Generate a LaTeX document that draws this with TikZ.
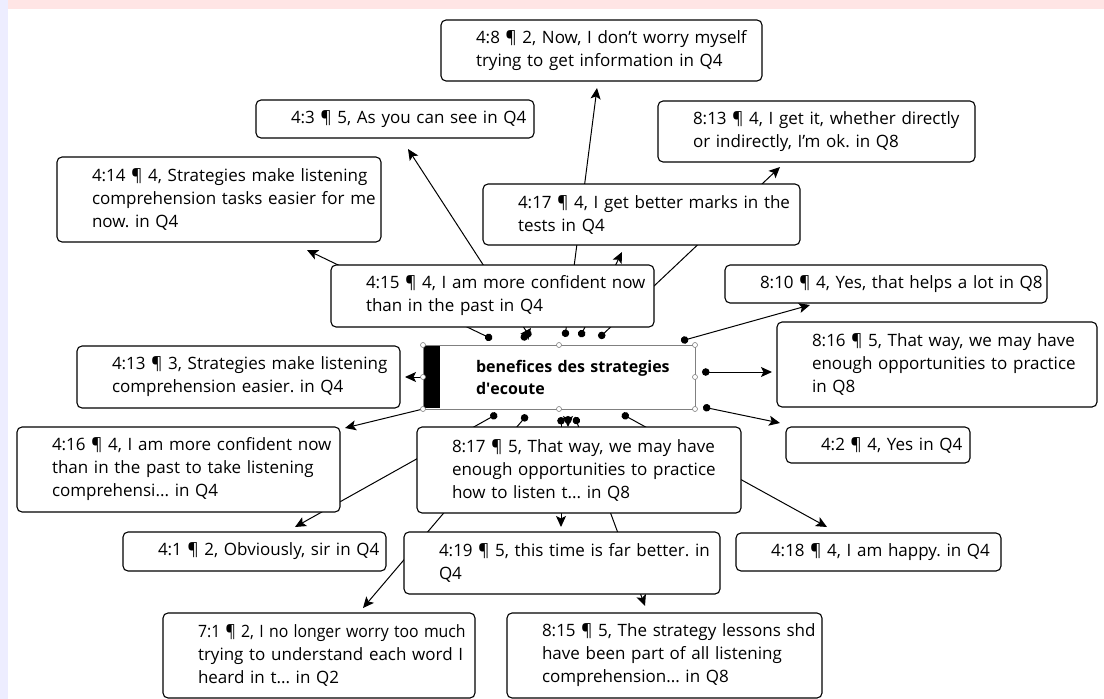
\documentclass[tikz,border=0pt]{standalone}
\usepackage{fontspec}
\setmainfont{Open Sans}
\usetikzlibrary{arrows.meta}
\pgfdeclarelayer{back}
\pgfdeclarelayer{edges}
\pgfsetlayers{back,edges,main}
\begin{document}
\frenchspacing
\begin{tikzpicture}[x=1pt,y=-1pt,
  q/.style={draw=black, line width=1.1pt, rounded corners=5pt, fill=white, anchor=north west,
    inner xsep=35pt, inner ysep=0pt, outer sep=0pt, align=left,
    font=\fontsize{17}{23}\selectfont},
  ln/.style={line width=1pt, {Circle[length=7.5pt]}-{Stealth[length=11pt,width=10pt,inset=2.5pt]}},
  ar/.style={line width=1pt, -{Stealth[length=11pt,width=10pt,inset=2.5pt]}},
  hd/.style={draw=gray, fill=white, line width=0.6pt}
]
\begin{pgfonlayer}{back}
\useasboundingbox (0,0) rectangle (1104,699);
\fill[white] (0,0) rectangle (1104,699);
\fill[red!10] (0,0) rectangle (1104,9);
\fill[blue!7] (0,0) rectangle (8,699);
\end{pgfonlayer}

% boxes
\node[q, minimum width=321pt, minimum height=61pt, text width=251pt] (b48) at (441,20)
  {\mbox{4:8 ¶ 2, Now, I don’t worry myself}\\\mbox{trying to get information in Q4}};
\node[q, minimum width=278pt, minimum height=38pt, text width=208pt] (b43) at (256,100)
  {\mbox{4:3 ¶ 5, As you can see in Q4}};
\node[q, minimum width=317pt, minimum height=61pt, text width=247pt] (b813) at (658,101)
  {\mbox{8:13 ¶ 4, I get it, whether directly}\\\mbox{or indirectly, I’m ok. in Q8}};
\node[q, minimum width=324pt, minimum height=85pt, text width=254pt] (b414) at (57,157)
  {\mbox{4:14 ¶ 4, Strategies make listening}\\\mbox{comprehension tasks easier for me}\\\mbox{now. in Q4}};
\node[q, minimum width=317pt, minimum height=61pt, text width=247pt] (b417) at (483,184)
  {\mbox{4:17 ¶ 4, I get better marks in the}\\\mbox{tests in Q4}};
\node[q, minimum width=323pt, minimum height=62pt, text width=253pt] (b415) at (331,265)
  {\mbox{4:15 ¶ 4, I am more confident now}\\\mbox{than in the past in Q4}};
\node[q, minimum width=322pt, minimum height=38pt, text width=252pt] (b810) at (725,265)
  {\mbox{8:10 ¶ 4, Yes, that helps a lot in Q8}};
\node[q, minimum width=320pt, minimum height=85pt, text width=250pt] (b816) at (777,322)
  {\mbox{8:16 ¶ 5, That way, we may have}\\\mbox{enough opportunities to practice}\\\mbox{in Q8}};
\node[q, minimum width=323pt, minimum height=62pt, text width=253pt] (b413) at (77,346)
  {\mbox{4:13 ¶ 3, Strategies make listening}\\\mbox{comprehension easier. in Q4}};
\node[q, minimum width=184pt, minimum height=36pt, text width=114pt] (b42) at (786,427)
  {\mbox{4:2 ¶ 4, Yes in Q4}};
\node[q, minimum width=323pt, minimum height=85pt, text width=253pt] (b416) at (17,427)
  {\mbox{4:16 ¶ 4, I am more confident now}\\\mbox{than in the past to take listening}\\\mbox{comprehensi... in Q4}};
\node[q, minimum width=324pt, minimum height=86pt, text width=254pt] (b817) at (417,427)
  {\mbox{8:17 ¶ 5, That way, we may have}\\\mbox{enough opportunities to practice}\\\mbox{how to listen t... in Q8}};
\node[q, minimum width=263pt, minimum height=39pt, text width=193pt] (b41) at (123,532)
  {\mbox{4:1 ¶ 2, Obviously, sir in Q4}};
\node[q, minimum width=316pt, minimum height=62pt, text width=246pt] (b419) at (404,532)
  {\mbox{4:19 ¶ 5, this time is far better. in}\\\mbox{Q4}};
\node[q, minimum width=265pt, minimum height=38pt, text width=195pt] (b418) at (736,533)
  {\mbox{4:18 ¶ 4, I am happy. in Q4}};
\node[q, minimum width=312pt, minimum height=85pt, text width=242pt] (b71) at (163,613)
  {\scalebox{0.93}[1]{7:1 ¶ 2, I no longer worry too much}\\\mbox{trying to understand each word I}\\\mbox{heard in t... in Q2}};
\node[q, minimum width=315pt, minimum height=85pt, text width=245pt] (b815) at (507,613)
  {\mbox{8:15 ¶ 5, The strategy lessons shd}\\\mbox{have been part of all listening}\\\mbox{comprehension... in Q8}};

% central node
\node[draw=gray, line width=0.8pt, fill=white, anchor=north west, outer sep=0pt,
  minimum width=272pt, minimum height=64pt, inner xsep=53pt, inner ysep=0pt,
  text width=166pt, align=left, font=\fontsize{16}{22}\selectfont\bfseries] (c) at (423,345)
  {\mbox{benefices des strategies}\\\mbox{d\textquotesingle ecoute}};
\fill[black] ([xshift=1pt,yshift=-1pt]c.north west) rectangle ([xshift=17pt,yshift=1pt]c.south west);

% connectors (behind the boxes)
\begin{pgfonlayer}{edges}
\draw[ln] ([xshift=69pt,yshift=6pt]c.north west) -- ([xshift=-74pt,yshift=-8pt]b414.south east);
\draw[ln] ([xshift=107pt,yshift=8pt]c.north west) -- ([xshift=152pt,yshift=-11pt]b43.south west);
\draw[ln] ([xshift=142pt,yshift=8pt]c.north west) -- ([xshift=156pt,yshift=-7pt]b48.south west);
\draw[ln] ([xshift=157pt,yshift=8pt]c.north west) -- ([xshift=139pt,yshift=-7pt]b417.south west);
\draw[ln] ([xshift=176pt,yshift=7pt]c.north west) -- ([xshift=122pt,yshift=-5pt]b813.south west);
\draw[ln] ([xshift=99pt,yshift=5pt]c.north west) -- ([xshift=200pt,yshift=-1pt]b415.south west);
\draw[ln] ([xshift=-14pt,yshift=4pt]c.north east) -- ([xshift=85pt,yshift=-2pt]b810.south west);
\draw[ln] ([xshift=7pt,yshift=5pt]c.east) -- ([xshift=-5pt,yshift=-7.5pt]b816.west);
\draw[ln] ([xshift=8pt,yshift=2pt]c.south east) -- ([xshift=-6pt,yshift=4pt]b42.north west);
\draw[ar] (c.west) -- ([xshift=5pt]b413.east);
\draw[ar] (c.south west) -- ([xshift=5pt,yshift=-1pt]b416.north east);
\draw[ln] ([xshift=74pt,yshift=-5pt]c.south west) -- ([xshift=172pt,yshift=5pt]b41.north west);
\draw[ln] ([xshift=104pt,yshift=-6pt]c.south west) -- ([xshift=200pt,yshift=5pt]b71.north west);
\draw[ln] ([xshift=138pt,yshift=-8pt]c.south west) -- ([xshift=157pt,yshift=5pt]b419.north west);
\draw[ln] ([xshift=152pt,yshift=-8pt]c.south west) -- ([xshift=138pt,yshift=7pt]b815.north west);
\draw[ln] ([xshift=199pt,yshift=-5pt]c.south west) -- ([xshift=91pt,yshift=6pt]b418.north west);
\draw[ln] ([xshift=145pt,yshift=-7pt]c.south west) -- ([xshift=151pt]b817.north west);
\end{pgfonlayer}

% selection handles
\foreach \a in {north west,north,north east,east,south east,south,south west,west}
  \draw[hd] (c.\a) circle (2.5pt);
\end{tikzpicture}
\end{document}
